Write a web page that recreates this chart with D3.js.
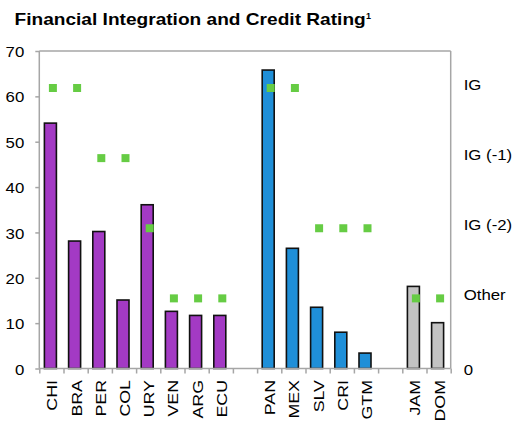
<!DOCTYPE html>
<html><head><meta charset="utf-8">
<script src="https://cdn.jsdelivr.net/npm/d3@7"></script>
<style>
html,body{margin:0;padding:0;background:#fff;}
svg{display:block;font-family:"Liberation Sans",Arial,sans-serif;}
</style></head>
<body>
<script>
// Data
const categories = ["CHI","BRA","PER","COL","URY","VEN","ARG","ECU","","PAN","MEX","SLV","CRI","GTM","","JAM","DOM"];
const groups     = ["a","a","a","a","a","a","a","a",null,"b","b","b","b","b",null,"c","c"];
const integration = [54.1,28.1,30.2,15.1,36.1,12.6,11.7,11.7,null,65.8,26.5,13.5,8.0,3.4,null,18.1,10.1];
const rating      = [4,4,3,3,2,1,1,1,null,4,4,2,2,2,null,1,1];
const leftTicks = [0,10,20,30,40,50,60,70];
const ratingLabels = ["0","Other","IG (-2)","IG (-1)","IG"];
const groupColors = {a:"#A33AC4", b:"#1F8FD8", c:"#C3C3C3"};
const markerColor = "#66CC44";

const W=520,H=423;
const svg=d3.select("body").append("svg").attr("width",W).attr("height",H);

const x0=39.3, x1=450.7, yTop=51, yBot=368.5;
const keys = categories.map((c,i)=>"k"+i);
const x = d3.scaleBand().domain(keys).range([x0,x1]).padding(0);
const xIdx = d3.scaleLinear().domain([0,categories.length]).range([x0,x1]);
const y = d3.scaleLinear().domain([0,70]).range([yBot,yTop]);
const y2 = d3.scaleLinear().domain([0,4.5]).range([yBot,yBot-(yBot-88)*4.5/4]);

// title
const t=svg.append("text").attr("x",0).attr("y",0).attr("font-size",16.3).attr("font-weight","bold").attr("fill","#000")
  .text("Financial Integration and Credit Rating");
const tl=t.node().getComputedTextLength();
t.attr("transform",`translate(14.5,25) scale(${351/tl},1)`);
svg.append("text").attr("x",366).attr("y",19).attr("font-size",9).attr("font-weight","bold").text("1");

// frame
const axisColor="#A6A6A6";
svg.append("line").attr("x1",x0).attr("x2",x1).attr("y1",yTop).attr("y2",yTop).attr("stroke",axisColor).attr("stroke-width",1.5);
svg.append("line").attr("x1",x1).attr("x2",x1).attr("y1",yTop).attr("y2",yBot).attr("stroke",axisColor).attr("stroke-width",1.5);

// left axis
const sL=1.2;
const la = svg.append("g").attr("transform",`translate(${x0},0)`)
  .call(d3.axisLeft(y).tickValues(leftTicks).tickSize(4).tickPadding(15).tickFormat(d3.format("d")));
la.selectAll("path,line").attr("stroke",axisColor).attr("stroke-width",1.5);
la.select("path").attr("d",`M0,${yTop}V${yBot}`);
la.selectAll("text").attr("font-size",14).attr("fill","#000").attr("font-family","Liberation Sans, Arial, sans-serif")
  .attr("dy","0.4em").attr("x",-15/sL).attr("transform",`scale(${sL},1)`);

// bars
svg.append("g").selectAll("rect").data(integration.map((v,i)=>({v,i})).filter(d=>d.v!==null)).join("rect")
  .attr("x",d=>x(keys[d.i])+x.bandwidth()/2-7)
  .attr("width",12)
  .attr("y",d=>y(d.v))
  .attr("height",d=>y(0)-y(d.v))
  .attr("fill",d=>groupColors[groups[d.i]])
  .attr("stroke","#111").attr("stroke-width",1.6);

// bottom axis
const ba = svg.append("g").attr("transform",`translate(0,${yBot})`)
  .call(d3.axisBottom(xIdx).tickValues(d3.range(categories.length+1)).tickSize(5).tickFormat(""));
ba.selectAll("path,line").attr("stroke",axisColor).attr("stroke-width",1.5);
ba.select("path").attr("d",`M${x0},0H${x1}`);

// markers
svg.append("g").selectAll("rect").data(rating.map((v,i)=>({v,i})).filter(d=>d.v!==null)).join("rect")
  .attr("x",d=>x(keys[d.i])+x.bandwidth()/2+1.5-4)
  .attr("y",d=>y2(d.v)-4)
  .attr("width",8).attr("height",8)
  .attr("fill",markerColor);

// category labels
svg.append("g").selectAll("text").data(categories.map((c,i)=>({c,i})).filter(d=>d.c!=="")).join("text")
  .attr("transform",d=>`translate(${x(keys[d.i])+x.bandwidth()/2+0.5},380) rotate(-90) scale(1.15,1)`)
  .attr("text-anchor","end").attr("dy","0.36em")
  .attr("font-size",15.5).attr("fill","#000").text(d=>d.c);

// right labels
const sR=1.2;
const ra = svg.append("g").attr("transform",`translate(${x1},0)`)
  .call(d3.axisRight(y2).tickValues([0,1,2,3,4]).tickSize(0).tickPadding(13).tickFormat(d=>ratingLabels[d]));
ra.select("path").remove();
ra.selectAll("text").attr("font-size",14).attr("fill","#000").attr("font-family","Liberation Sans, Arial, sans-serif")
  .attr("dy",(d)=>d===0?"0.45em":"0.1em").attr("x",13/sR).attr("transform",`scale(${sR},1)`);
</script>
</body></html>
